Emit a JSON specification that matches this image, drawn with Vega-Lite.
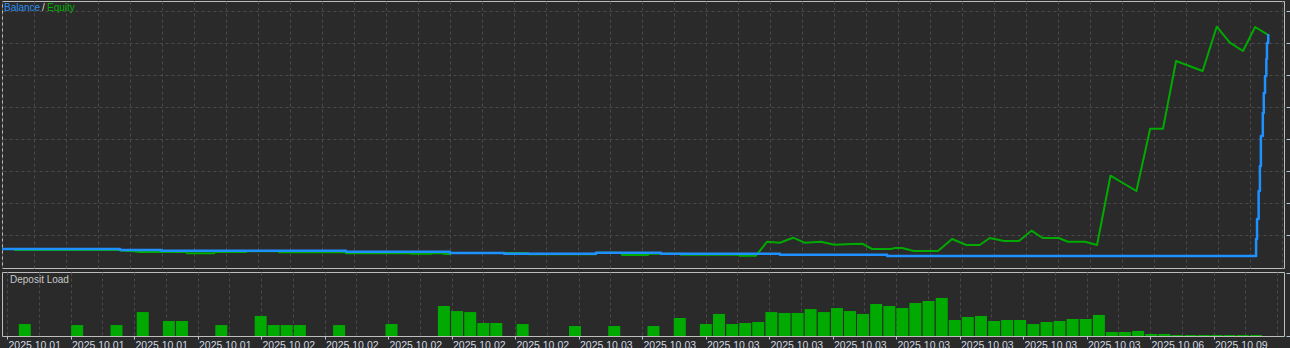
{
  "$schema": "https://vega.github.io/schema/vega-lite/v6.json",
  "background": "#2a2a2a",
  "padding": {"left": 1, "top": 0, "right": 0, "bottom": 0},
  "spacing": 2,
  "config": {
    "font": "Liberation Sans",
    "view": {"stroke": "#bdbdbd", "strokeWidth": 1},
    "axis": {"gridColor": "#4a4a4a", "gridDash": [3, 3], "gridWidth": 1, "domain": false, "tickColor": "#b8c4d4", "labelColor": "#d0d8e2", "title": null}
  },
  "datasets": {
    "balance": [
      {"u": 0, "v": 1430}, {"u": 36.9, "v": 1352}, {"u": 49.7, "v": 1289}, {"u": 107.5, "v": 1219},
      {"u": 140, "v": 1117}, {"u": 156.9, "v": 1063}, {"u": 185.6, "v": 1141}, {"u": 205.9, "v": 1063},
      {"u": 243.1, "v": 984}, {"u": 276.6, "v": 883}, {"u": 391.9, "v": 2211}, {"u": 392.2, "v": 3773},
      {"u": 392.7, "v": 5961}, {"u": 393.1, "v": 7914}, {"u": 393.4, "v": 10258}, {"u": 394, "v": 12055},
      {"u": 394.3, "v": 13617}, {"u": 394.7, "v": 14945}, {"u": 395.1, "v": 16273}, {"u": 395.3, "v": 17523},
      {"u": 395.7, "v": 18227}
    ],
    "equity": [
      {"u": 0, "v": 1430}, {"u": 3.75, "v": 1430}, {"u": 4.06, "v": 1352}, {"u": 36.9, "v": 1352},
      {"u": 37.2, "v": 1313}, {"u": 40.9, "v": 1250}, {"u": 43.1, "v": 1195}, {"u": 57.5, "v": 1195},
      {"u": 57.8, "v": 1094}, {"u": 66.3, "v": 1094}, {"u": 66.6, "v": 1195}, {"u": 76.3, "v": 1195},
      {"u": 76.6, "v": 1258}, {"u": 86.3, "v": 1258}, {"u": 86.6, "v": 1172}, {"u": 107.2, "v": 1172},
      {"u": 107.5, "v": 1094}, {"u": 127.5, "v": 1094}, {"u": 127.8, "v": 1055}, {"u": 134.1, "v": 1055},
      {"u": 134.4, "v": 1094}, {"u": 137.8, "v": 1094}, {"u": 138.1, "v": 1039}, {"u": 140, "v": 1039},
      {"u": 140.3, "v": 1117}, {"u": 164.4, "v": 1117}, {"u": 164.7, "v": 1016}, {"u": 185.6, "v": 1016},
      {"u": 185.9, "v": 1141}, {"u": 193.4, "v": 1141}, {"u": 193.8, "v": 961}, {"u": 201.9, "v": 961},
      {"u": 202.2, "v": 1063}, {"u": 211.9, "v": 1063}, {"u": 212.2, "v": 984}, {"u": 230.3, "v": 984},
      {"u": 230.6, "v": 906}, {"u": 235.6, "v": 906}, {"u": 239.1, "v": 2000}, {"u": 243.1, "v": 1922},
      {"u": 247.2, "v": 2313}, {"u": 250.8, "v": 1922}, {"u": 255.9, "v": 2000}, {"u": 260.2, "v": 1766},
      {"u": 265.5, "v": 1820}, {"u": 268.8, "v": 1844}, {"u": 271.9, "v": 1430}, {"u": 277.8, "v": 1430},
      {"u": 279.1, "v": 1508}, {"u": 281.3, "v": 1508}, {"u": 284.9, "v": 1273}, {"u": 292.5, "v": 1273},
      {"u": 296.9, "v": 2211}, {"u": 301.3, "v": 1742}, {"u": 305.5, "v": 1742}, {"u": 308.7, "v": 2289},
      {"u": 313.1, "v": 2055}, {"u": 317.8, "v": 2055}, {"u": 321.7, "v": 2859}, {"u": 325.2, "v": 2289},
      {"u": 330.2, "v": 2289}, {"u": 333.1, "v": 2000}, {"u": 338.4, "v": 2000}, {"u": 342.2, "v": 1742},
      {"u": 346.4, "v": 7156}, {"u": 354.5, "v": 5961}, {"u": 358.8, "v": 10828}, {"u": 362.8, "v": 10828},
      {"u": 366.9, "v": 16117}, {"u": 375.2, "v": 15336}, {"u": 379.6, "v": 18797}, {"u": 383.7, "v": 17547},
      {"u": 387.8, "v": 16898}, {"u": 391.6, "v": 18773}, {"u": 395.4, "v": 18203}
    ],
    "load": [
      {"u": 5.6, "load": 9.5}, {"u": 22.1, "load": 8.7}, {"u": 34.5, "load": 8.7}, {"u": 42.75, "load": 19.0},
      {"u": 51, "load": 11.9}, {"u": 55.1, "load": 11.9}, {"u": 67.5, "load": 8.7}, {"u": 79.9, "load": 15.9},
      {"u": 84, "load": 8.7}, {"u": 88.1, "load": 8.7}, {"u": 92.25, "load": 8.7}, {"u": 104.6, "load": 8.7},
      {"u": 121.1, "load": 9.5}, {"u": 137.6, "load": 23.8}, {"u": 141.75, "load": 19.8}, {"u": 145.9, "load": 19.0},
      {"u": 150, "load": 10.3}, {"u": 154.1, "load": 10.3}, {"u": 162.4, "load": 9.5}, {"u": 178.9, "load": 7.9},
      {"u": 191.25, "load": 7.9}, {"u": 203.6, "load": 7.9}, {"u": 211.9, "load": 14.3}, {"u": 220.1, "load": 9.5},
      {"u": 224.25, "load": 17.5}, {"u": 228.4, "load": 9.5}, {"u": 232.5, "load": 10.3}, {"u": 236.6, "load": 11.1},
      {"u": 240.75, "load": 19.0}, {"u": 244.9, "load": 18.3}, {"u": 249, "load": 18.3}, {"u": 253.1, "load": 21.4},
      {"u": 257.25, "load": 19.0}, {"u": 261.4, "load": 22.2}, {"u": 265.5, "load": 19.8}, {"u": 269.6, "load": 17.5},
      {"u": 273.75, "load": 25.4}, {"u": 277.9, "load": 23.8}, {"u": 282, "load": 22.2}, {"u": 286.1, "load": 26.2},
      {"u": 290.25, "load": 27.8}, {"u": 294.4, "load": 30.2}, {"u": 298.5, "load": 12.7}, {"u": 302.6, "load": 15.1},
      {"u": 306.75, "load": 15.9}, {"u": 310.9, "load": 11.9}, {"u": 315, "load": 12.7}, {"u": 319.1, "load": 12.7},
      {"u": 323.25, "load": 9.5}, {"u": 327.4, "load": 11.1}, {"u": 331.5, "load": 11.9}, {"u": 335.6, "load": 13.5},
      {"u": 339.75, "load": 13.5}, {"u": 343.9, "load": 16.7}, {"u": 348, "load": 3.2}, {"u": 352.1, "load": 3.2},
      {"u": 356.25, "load": 4.0}, {"u": 360.4, "load": 1.6}, {"u": 364.5, "load": 1.6}, {"u": 368.6, "load": 0.8},
      {"u": 372.75, "load": 0.8}, {"u": 376.9, "load": 0.8}, {"u": 381, "load": 0.8}, {"u": 385.1, "load": 0.8},
      {"u": 389.25, "load": 0.8}, {"u": 393.4, "load": 0.8}
    ]
  },
  "vconcat": [
    {
      "width": 1282,
      "height": 267,
      "layer": [
        {"data": {"name": "equity"}, "mark": {"type": "line", "color": "#00aa00", "strokeWidth": 2, "clip": true, "strokeJoin": "round"},
          "encoding": {
            "x": {"field": "u", "type": "quantitative",
              "scale": {"domain": [0, 400.625], "nice": false, "zero": false},
              "axis": {"values": [0,10,20,30,40,50,60,70,80,90,100,110,120,130,140,150,160,170,180,190,200,210,220,230,240,250,260,270,280,290,300,310,320,330,340,350,360,370,380,390,400],
                "grid": true, "labels": false, "ticks": false}},
            "y": {"field": "v", "type": "quantitative",
              "scale": {"domain": [-55, 20805], "nice": false, "zero": false},
              "axis": {"orient": "right", "values": [2500,5000,7500,10000,12500,15000,17500,20000], "grid": true, "labels": false, "ticks": true, "tickSize": 4, "offset": 2}}
          }},
        {"data": {"name": "balance"}, "mark": {"type": "line", "color": "#1e90ff", "strokeWidth": 2.5, "interpolate": "step-after", "clip": true, "strokeJoin": "round"},
          "encoding": {
            "x": {"field": "u", "type": "quantitative",
              "axis": {"values": [0,10,20,30,40,50,60,70,80,90,100,110,120,130,140,150,160,170,180,190,200,210,220,230,240,250,260,270,280,290,300,310,320,330,340,350,360,370,380,390,400],
                "grid": true, "labels": false, "ticks": false}},
            "y": {"field": "v", "type": "quantitative",
              "axis": {"orient": "right", "values": [2500,5000,7500,10000,12500,15000,17500,20000], "grid": true, "labels": false, "ticks": true, "tickSize": 4, "offset": 2}}
          }},
        {"data": {"values": [{"t": "Balance"}]}, "mark": {"type": "text", "align": "left", "baseline": "middle", "dx": 2, "dy": 7, "fontSize": 10, "color": "#2a8ff0"},
          "encoding": {"text": {"field": "t", "type": "nominal"},
            "x": {"datum": 0, "type": "quantitative",
              "axis": {"values": [0,10,20,30,40,50,60,70,80,90,100,110,120,130,140,150,160,170,180,190,200,210,220,230,240,250,260,270,280,290,300,310,320,330,340,350,360,370,380,390,400],
                "grid": true, "labels": false, "ticks": false}},
            "y": {"datum": 20805, "type": "quantitative",
              "axis": {"orient": "right", "values": [2500,5000,7500,10000,12500,15000,17500,20000], "grid": true, "labels": false, "ticks": true, "tickSize": 4, "offset": 2}}}},
        {"data": {"values": [{"t": "/"}]}, "mark": {"type": "text", "align": "left", "baseline": "middle", "dx": 40, "dy": 7, "fontSize": 10, "color": "#d8d8d8"},
          "encoding": {"text": {"field": "t", "type": "nominal"},
            "x": {"datum": 0, "type": "quantitative",
              "axis": {"values": [0,10,20,30,40,50,60,70,80,90,100,110,120,130,140,150,160,170,180,190,200,210,220,230,240,250,260,270,280,290,300,310,320,330,340,350,360,370,380,390,400],
                "grid": true, "labels": false, "ticks": false}},
            "y": {"datum": 20805, "type": "quantitative",
              "axis": {"orient": "right", "values": [2500,5000,7500,10000,12500,15000,17500,20000], "grid": true, "labels": false, "ticks": true, "tickSize": 4, "offset": 2}}}},
        {"data": {"values": [{"t": "Equity"}]}, "mark": {"type": "text", "align": "left", "baseline": "middle", "dx": 45, "dy": 7, "fontSize": 10, "color": "#00b000"},
          "encoding": {"text": {"field": "t", "type": "nominal"},
            "x": {"datum": 0, "type": "quantitative",
              "axis": {"values": [0,10,20,30,40,50,60,70,80,90,100,110,120,130,140,150,160,170,180,190,200,210,220,230,240,250,260,270,280,290,300,310,320,330,340,350,360,370,380,390,400],
                "grid": true, "labels": false, "ticks": false}},
            "y": {"datum": 20805, "type": "quantitative",
              "axis": {"orient": "right", "values": [2500,5000,7500,10000,12500,15000,17500,20000], "grid": true, "labels": false, "ticks": true, "tickSize": 4, "offset": 2}}}}
      ]
    },
    {
      "width": 1282,
      "height": 64,
      "layer": [
        {"data": {"name": "load"}, "mark": {"type": "bar", "color": "#00aa00", "size": 12, "clip": true},
          "encoding": {
            "x": {"field": "u", "type": "quantitative",
              "scale": {"domain": [0, 400.625], "nice": false, "zero": false},
              "axis": {"values": [0,10,20,30,40,50,60,70,80,90,100,110,120,130,140,150,160,170,180,190,200,210,220,230,240,250,260,270,280,290,300,310,320,330,340,350,360,370,380,390,400],
                "grid": true, "ticks": true, "tickSize": 3,
                "tickOpacity": {"condition": {"test": "datum.value % 20 === 0 && datum.value < 390", "value": 1}, "value": 0},
                "labelAlign": "left", "labelPadding": 1, "labelOffset": 1, "labelFontSize": 10.5,
                "labelOverlap": false, "labelBound": false, "labelFlush": false,
                "labelExpr": "datum.value % 20 !== 0 ? '' : datum.value < 80 ? '2025.10.01' : datum.value < 180 ? '2025.10.02' : datum.value < 360 ? '2025.10.03' : datum.value < 370 ? '2025.10.06' : datum.value < 390 ? '2025.10.09' : ''"}},
            "y": {"field": "load", "type": "quantitative",
              "scale": {"domain": [0, 50.8], "nice": false, "zero": true},
              "axis": {"orient": "right", "values": [0, 50], "grid": false, "labels": false, "ticks": true, "tickSize": 4, "offset": 2}}
          }},
        {"data": {"values": [{"t": "Deposit Load"}]}, "mark": {"type": "text", "align": "left", "baseline": "middle", "dx": 3, "dy": 8, "fontSize": 10, "color": "#c8c8c8"},
          "encoding": {"text": {"field": "t", "type": "nominal"},
            "x": {"datum": 0, "type": "quantitative",
              "axis": {"values": [0,10,20,30,40,50,60,70,80,90,100,110,120,130,140,150,160,170,180,190,200,210,220,230,240,250,260,270,280,290,300,310,320,330,340,350,360,370,380,390,400],
                "grid": true, "ticks": true, "tickSize": 3,
                "tickOpacity": {"condition": {"test": "datum.value % 20 === 0 && datum.value < 390", "value": 1}, "value": 0},
                "labelAlign": "left", "labelPadding": 1, "labelOffset": 1, "labelFontSize": 10.5,
                "labelOverlap": false, "labelBound": false, "labelFlush": false,
                "labelExpr": "datum.value % 20 !== 0 ? '' : datum.value < 80 ? '2025.10.01' : datum.value < 180 ? '2025.10.02' : datum.value < 360 ? '2025.10.03' : datum.value < 370 ? '2025.10.06' : datum.value < 390 ? '2025.10.09' : ''"}},
            "y": {"datum": 50.8, "type": "quantitative",
              "axis": {"orient": "right", "values": [0, 50], "grid": false, "labels": false, "ticks": true, "tickSize": 4, "offset": 2}}}}
      ]
    }
  ]
}
